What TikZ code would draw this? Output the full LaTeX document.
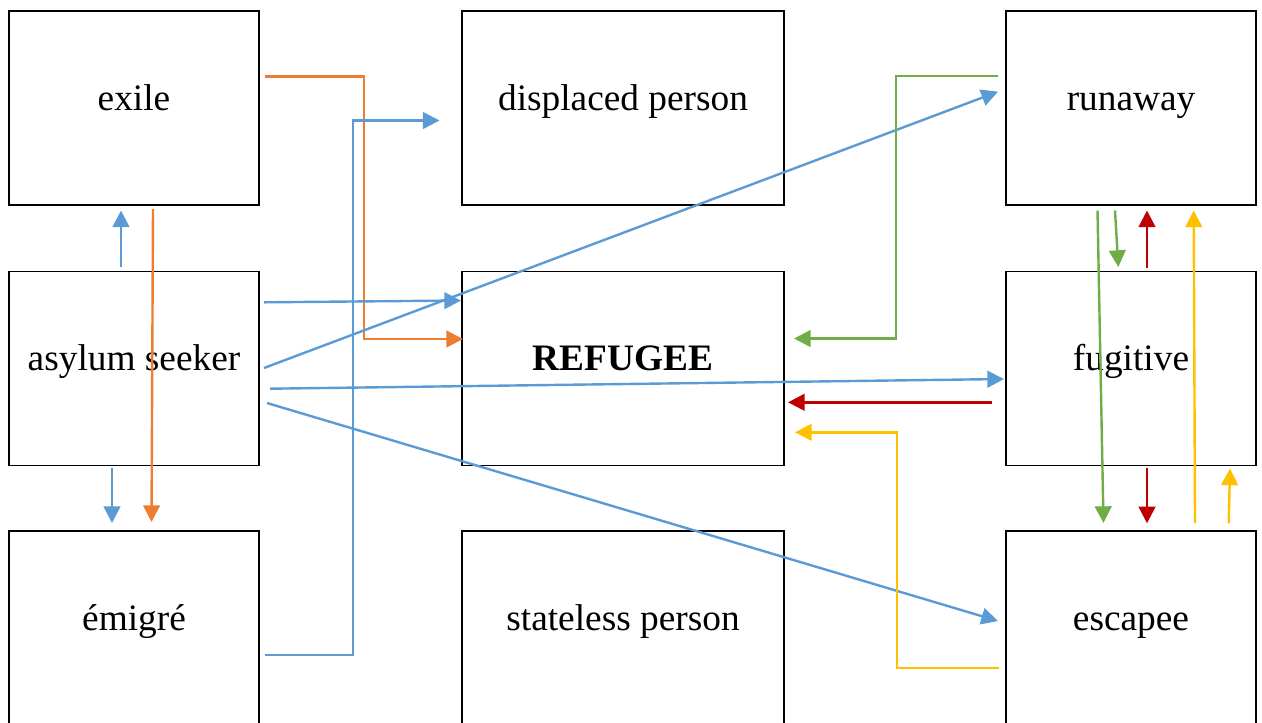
\documentclass[tikz,border=0pt]{standalone}
\usepackage{fontspec}
\setmainfont{Liberation Serif}
\usetikzlibrary{arrows.meta}
\definecolor{cblue}{HTML}{5B9BD5}
\definecolor{corange}{HTML}{ED7D31}
\definecolor{cgreen}{HTML}{70AD47}
\definecolor{cred}{HTML}{C00000}
\definecolor{cyellow}{HTML}{FFC000}
\begin{document}
\begin{tikzpicture}[x=0.75pt,y=-0.75pt,
  box/.style={draw=black,line width=1.3pt,minimum width=187.5pt,minimum height=145.5pt,inner sep=0pt},
  widebox/.style={box,minimum width=241.5pt},
  word/.style={anchor=base,inner sep=0pt,font=\fontsize{28}{33}\selectfont},
  link/.style={line width=1.8pt,-{Triangle[length=12.5pt,width=12.5pt]}}]
\useasboundingbox (0,0) rectangle (1262,722);

% boxes
\node[box]     (exile)     at (134,108)   {};
\node[box]     (asylum)    at (134,368.5) {};
\node[box]     (emigre)    at (134,628)   {};
\node[widebox] (displaced) at (623,108)   {};
\node[widebox] (refugee)   at (623,368.5) {};
\node[widebox] (stateless) at (623,628)   {};
\node[box]     (runaway)   at (1131,108)  {};
\node[box]     (fugitive)  at (1131,368.5){};
\node[box]     (escapee)   at (1131,628)  {};

% labels
\node[word] (t-exile)     at (134,110) {exile};
\node[word] (t-asylum)    at (134,370) {asylum seeker};
\node[word] (t-emigre)    at (134,630) {émigré};
\node[word] (t-displaced) at (623,110) {displaced person};
\node[word] (t-refugee)   at (623,370) {\bfseries REFUGEE};
\node[word] (t-stateless) at (623,630) {stateless person};
\node[word] (t-runaway)   at (1131,110) {runaway};
\node[word] (t-fugitive)  at (1131,370) {fugitive};
\node[word] (t-escapee)   at (1131,630) {escapee};

% connector end points
\coordinate (as-up-a) at (121,267);   \coordinate (as-up-b) at (121,210.5);
\coordinate (ex-dn-a) at (153,209);   \coordinate (ex-dn-b) at (151.5,522);
\coordinate (as-dn-a) at (112,468);   \coordinate (as-dn-b) at (112,523);
\coordinate (ex-rf-a) at (265,76.5);  \coordinate (ex-rf-b) at (463,339);
\coordinate (em-dp-a) at (265,655);   \coordinate (em-dp-b) at (439.5,120.5);
\coordinate (as-rf-a) at (264,302.3); \coordinate (as-rf-b) at (461,300.5);
\coordinate (as-ru-a) at (264,368);   \coordinate (as-ru-b) at (998,91.7);
\coordinate (as-fu-a) at (270,388.7); \coordinate (as-fu-b) at (1004,379);
\coordinate (as-es-a) at (267,403);   \coordinate (as-es-b) at (998,621);
\coordinate (ru-rf-a) at (998,76);    \coordinate (ru-rf-b) at (794,338.5);
\coordinate (ru-es-a) at (1097.5,210.5); \coordinate (ru-es-b) at (1103.5,523);
\coordinate (ru-fu-a) at (1115,210.5);   \coordinate (ru-fu-b) at (1118.3,267);
\coordinate (fu-ru-a) at (1147,268);     \coordinate (fu-ru-b) at (1147,210.5);
\coordinate (es-ru-a) at (1195,523);     \coordinate (es-ru-b) at (1193.7,210.5);
\coordinate (fu-rf-a) at (992,402.3);    \coordinate (fu-rf-b) at (788,402.3);
\coordinate (es-rf-a) at (999,668);      \coordinate (es-rf-b) at (795,432.3);
\coordinate (fu-es-a) at (1147,468);     \coordinate (fu-es-b) at (1147,523.3);
\coordinate (es-fu-a) at (1228.7,523.3); \coordinate (es-fu-b) at (1230,468.5);

% connectors
\draw[link,cblue]   (as-up-a) -- (as-up-b);
\draw[link,corange] (ex-dn-a) -- (ex-dn-b);
\draw[link,cblue]   (as-dn-a) -- (as-dn-b);
\draw[link,corange] (ex-rf-a) -| (364,200) |- (ex-rf-b);
\draw[link,cblue]   (em-dp-a) -| (352.7,400) |- (em-dp-b);
\draw[link,cblue]   (as-rf-a) -- (as-rf-b);
\draw[link,cblue]   (as-ru-a) -- (as-ru-b);
\draw[link,cblue]   (as-fu-a) -- (as-fu-b);
\draw[link,cblue]   (as-es-a) -- (as-es-b);
\draw[link,cgreen]  (ru-rf-a) -| (896,200) |- (ru-rf-b);
\draw[link,cgreen]  (ru-es-a) -- (ru-es-b);
\draw[link,cgreen]  (ru-fu-a) -- (ru-fu-b);
\draw[link,cred]    (fu-ru-a) -- (fu-ru-b);
\draw[link,cyellow] (es-ru-a) -- (es-ru-b);
\draw[link,cred]    (fu-rf-a) -- (fu-rf-b);
\draw[link,cyellow] (es-rf-a) -| (896.7,500) |- (es-rf-b);
\draw[link,cred]    (fu-es-a) -- (fu-es-b);
\draw[link,cyellow] (es-fu-a) -- (es-fu-b);
\end{tikzpicture}
\end{document}
